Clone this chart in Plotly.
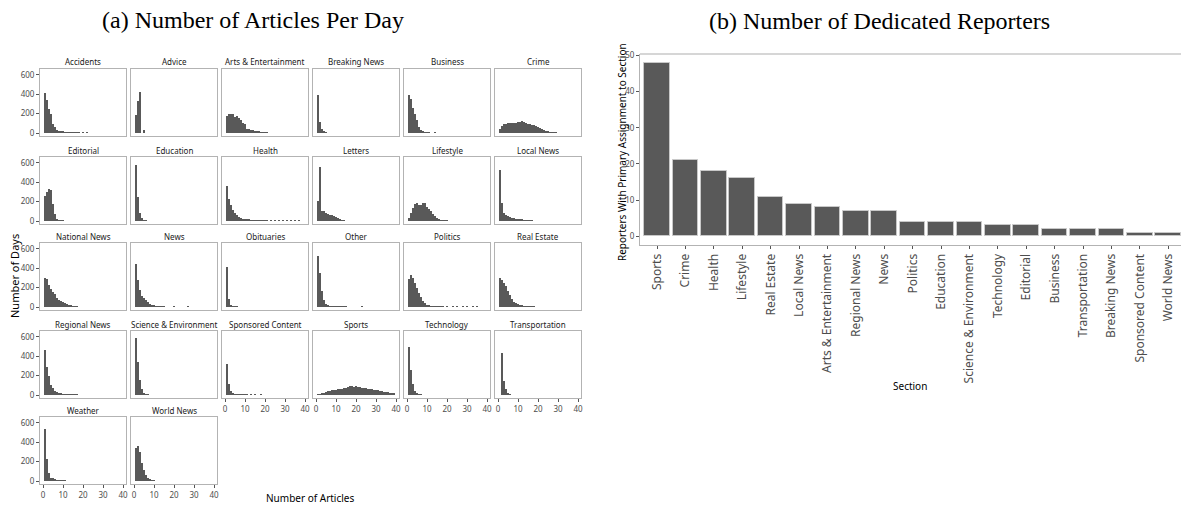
import plotly.graph_objects as go

W, H = 1181, 506

# ---------------- data: panel (a) ----------------
sections = ["Accidents", "Advice", "Arts & Entertainment", "Breaking News", "Business", "Crime",
            "Editorial", "Education", "Health", "Letters", "Lifestyle", "Local News",
            "National News", "News", "Obituaries", "Other", "Politics", "Real Estate",
            "Regional News", "Science & Environment", "Sponsored Content", "Sports", "Technology",
            "Transportation", "Weather", "World News"]

# days per number of articles (bins 1, 2, 3, ...)
accidents = [417, 345, 252, 193, 97, 62, 34, 25, 18, 12, 9, 6, 5, 4, 3, 2, 2, 1, 0, 2, 0, 1]
advice = [183, 331, 424, 0, 28]
arts_entertainment = [172, 195, 200, 195, 165, 175, 160, 135, 100, 95, 45, 45, 35, 30, 22, 18, 12, 8, 5, 3, 2]
breaking_news = [390, 113, 45, 12, 4]
business = [390, 355, 255, 200, 130, 62, 28, 12, 5, 3, 1, 0, 0, 2]
crime = [45, 70, 90, 95, 100, 100, 100, 105, 105, 110, 115, 120, 110, 100, 95, 90, 85, 80, 70,
         60, 50, 40, 30, 22, 15, 10, 5, 4, 3]
editorial = [254, 295, 332, 322, 176, 75, 20, 8, 3, 1]
education = [576, 244, 85, 34, 10, 3]
health = [363, 230, 170, 110, 85, 62, 45, 32, 25, 20, 16, 13, 10, 8, 7, 6, 5, 5, 4, 3, 2, 0, 8, 0,
          3, 0, 2, 0, 4, 0, 2, 0, 3, 0, 4, 0, 2, 0]
letters = [205, 560, 100, 100, 85, 68, 60, 65, 55, 45, 30, 15, 8, 3]
lifestyle = [34, 85, 136, 176, 187, 170, 165, 185, 185, 150, 125, 100, 75, 50, 30, 18, 10, 6, 3, 2]
local_news = [525, 185, 85, 62, 50, 42, 35, 30, 25, 20, 15, 12, 8, 6, 4, 3, 2]
national_news = [296, 285, 230, 190, 160, 130, 95, 72, 60, 50, 40, 30, 22, 15, 10, 5, 3]
news = [441, 280, 175, 110, 95, 72, 48, 30, 20, 15, 10, 7, 5, 3, 2, 0, 0, 0, 0, 1, 0, 0, 0, 0, 0, 0, 1]
obituaries = [414, 80, 12, 5, 3, 2]
other = [527, 355, 169, 72, 31, 15, 10, 7, 5, 3, 2, 2, 1, 1, 1, 0, 0, 0, 0, 0, 0, 0, 1]
politics = [290, 330, 300, 250, 200, 150, 100, 60, 40, 25, 15, 10, 8, 5, 3, 2, 2, 1, 0, 1, 0, 0, 1,
            0, 1, 0, 0, 1, 0, 1, 0, 0, 1, 0, 1]
real_estate = [300, 280, 250, 220, 170, 120, 80, 55, 40, 30, 25, 15, 10, 6, 4, 2, 1, 1]
regional_news = [470, 290, 200, 100, 70, 45, 30, 20, 12, 8, 6, 5, 3, 3, 2, 2, 1]
science_environment = [585, 345, 160, 60, 25, 8, 3]
sponsored_content = [325, 110, 45, 15, 8, 5, 3, 2, 1, 1, 1, 0, 1, 0, 1, 0, 0, 1]
sports = [5, 10, 15, 25, 35, 40, 45, 50, 50, 55, 60, 60, 65, 70, 75, 80, 90, 95, 85, 90, 80, 85,
          75, 75, 70, 65, 60, 65, 55, 55, 50, 45, 40, 35, 35, 30, 25, 20, 15]
technology = [500, 260, 110, 45, 15, 5, 2]
transportation = [0, 436, 146, 60, 20, 5]
weather = [540, 225, 85, 35, 30, 15, 8, 4, 3, 2, 1]
world_news = [345, 365, 305, 190, 115, 65, 35, 15, 8, 3]

hist_counts = [accidents, advice, arts_entertainment, breaking_news, business, crime,
               editorial, education, health, letters, lifestyle, local_news,
               national_news, news, obituaries, other, politics, real_estate,
               regional_news, science_environment, sponsored_content, sports, technology,
               transportation, weather, world_news]

x_ticks = [0, 10, 20, 30, 40]
y_ticks = [0, 200, 400, 600]

# ---------------- data: panel (b) ----------------
reporter_sections = ["Sports", "Crime", "Health", "Lifestyle", "Real Estate", "Local News",
                     "Arts & Entertainment", "Regional News", "News", "Politics", "Education",
                     "Science & Environment", "Technology", "Editorial", "Business",
                     "Transportation", "Breaking News", "Sponsored Content", "World News"]
reporter_counts = [48, 21, 18, 16, 11, 9, 8, 7, 7, 4, 4, 4, 3, 3, 2, 2, 2, 1, 1]
reporter_ticks = [0, 10, 20, 30, 40, 50]

# ---------------- layout helpers ----------------
FONT = "Noto Sans"
TICKC = "#4d4d4d"
BORDER = "#b3b3b3"
BARC = "#595959"

col_left = [40, 131, 222, 313, 404, 495]
row_top = [69, 157, 243, 331, 417]
fw, fh = 86, 67
bottom_of_col = {20, 21, 22, 23, 24, 25}


def px_x(x):
    return x / W


def px_y(y):
    return 1 - y / H


fig = go.Figure()
layout = dict(
    width=W, height=H, margin=dict(l=0, r=0, t=0, b=0),
    paper_bgcolor="white", plot_bgcolor="white", showlegend=False,
    template="none", font=dict(family=FONT, color=TICKC),
)
annotations = []

for i, (name, counts) in enumerate(zip(sections, hist_counts)):
    r, c = divmod(i, 6)
    n = i + 1
    sfx = "" if n == 1 else str(n)
    x0, y0 = col_left[c], row_top[r]
    bins = list(range(1, len(counts) + 1))
    fig.add_trace(go.Bar(x=bins, y=counts, width=1.0,
                         marker=dict(color=BARC, line=dict(width=0)),
                         xaxis="x" + sfx, yaxis="y" + sfx, hoverinfo="x+y"))
    show_x = i in bottom_of_col
    show_y = c == 0
    layout["xaxis" + sfx] = dict(
        domain=[px_x(x0), px_x(x0 + fw)], anchor="y" + sfx, range=[-1.5, 41.5],
        showline=True, mirror=True, linecolor=BORDER, linewidth=1,
        showgrid=False, zeroline=False, tickvals=x_ticks,
        showticklabels=show_x, ticks="outside" if show_x else "", ticklen=3,
        tickcolor="#555555", tickfont=dict(size=8, color=TICKC, family=FONT),
        automargin=False, fixedrange=True)
    layout["yaxis" + sfx] = dict(
        domain=[px_y(y0 + fh), px_y(y0)], anchor="x" + sfx, range=[-31, 662],
        showline=True, mirror=True, linecolor=BORDER, linewidth=1,
        showgrid=False, zeroline=False, tickvals=y_ticks,
        showticklabels=show_y, ticks="outside" if show_y else "", ticklen=3,
        tickcolor="#555555", tickfont=dict(size=8, color=TICKC, family=FONT),
        automargin=False, fixedrange=True)
    annotations.append(dict(text=name, x=px_x(x0 + fw / 2), y=px_y(y0 - 7),
                            xref="paper", yref="paper", showarrow=False,
                            xanchor="center", yanchor="middle",
                            font=dict(size=8, color="#1a1a1a", family=FONT)))

# ---------------- panel (b) ----------------
nb = len(sections) + 1
sb = str(nb)
fig.add_trace(go.Bar(x=reporter_sections, y=reporter_counts, width=0.9,
                     marker=dict(color=BARC, line=dict(color="#c8c8c8", width=1)),
                     xaxis="x" + sb, yaxis="y" + sb, hoverinfo="x+y"))
layout["xaxis" + sb] = dict(
    domain=[px_x(640), 1.0], anchor="y" + sb, type="category",
    categoryorder="array", categoryarray=reporter_sections, range=[-0.6, 18.45],
    showline=True, linecolor=BORDER, linewidth=1, showgrid=False, zeroline=False,
    ticks="outside", ticklen=3, tickcolor="#555555", tickangle=-90,
    tickfont=dict(size=12, color=TICKC, family=FONT), automargin=False, fixedrange=True)
layout["yaxis" + sb] = dict(
    domain=[px_y(245), px_y(54)], anchor="x" + sb, range=[-2.4, 50.4],
    showline=True, linecolor=BORDER, linewidth=1, showgrid=False, zeroline=False,
    tickvals=reporter_ticks, ticks="outside", ticklen=3, tickcolor="#555555",
    tickfont=dict(size=8, color=TICKC, family=FONT), automargin=False, fixedrange=True)

layout["shapes"] = [dict(type="line", xref="paper", yref="paper",
                         x0=px_x(640), x1=1.0, y0=px_y(54), y1=px_y(54),
                         line=dict(color="#c8c8c8", width=1.5))]

# titles and axis titles
annotations += [
    dict(text="(a) Number of Articles Per Day", x=px_x(253), y=px_y(20),
         font=dict(size=24, color="black", family="Liberation Serif")),
    dict(text="(b) Number of Dedicated Reporters", x=px_x(879), y=px_y(21),
         font=dict(size=24, color="black", family="Liberation Serif")),
    dict(text="Number of Days", x=px_x(14), y=px_y(276), textangle=-90,
         font=dict(size=11, color="black", family=FONT)),
    dict(text="Number of Articles", x=px_x(310), y=px_y(498),
         font=dict(size=10, color="black", family=FONT)),
    dict(text="Section", x=px_x(910), y=px_y(386),
         font=dict(size=10, color="black", family=FONT)),
    dict(text="Reporters With Primary Assignment to Section", x=px_x(622), y=px_y(152),
         textangle=-90, font=dict(size=10, color="black", family=FONT)),
]
for a in annotations[len(sections):]:
    a.update(xref="paper", yref="paper", showarrow=False, xanchor="center", yanchor="middle")

layout["annotations"] = annotations
layout["bargap"] = 0
fig.update_layout(**layout)
fig.write_html("out.html")
